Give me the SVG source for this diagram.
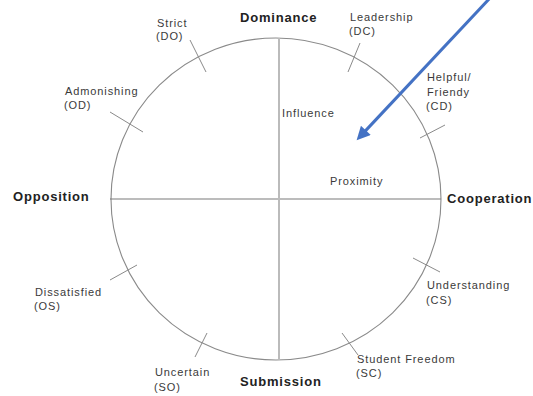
<svg xmlns="http://www.w3.org/2000/svg" width="533" height="396" viewBox="0 0 533 396">
  <style>
    .lbl { font-family: "Liberation Sans", Arial, sans-serif; font-size: 11px; fill: #3a3a3a; letter-spacing: 0.9px; }
    .axis { font-family: "Liberation Sans", Arial, sans-serif; font-size: 13px; font-weight: bold; fill: #222; letter-spacing: 0.8px; }
    .tick { stroke: #8a8a8a; stroke-width: 1; fill: none; }
  </style>
  <defs>
    <marker id="head" viewBox="0 0 10 10" refX="2" refY="5" markerWidth="5.5" markerHeight="4.5" orient="auto" markerUnits="strokeWidth">
      <path d="M0,0 L10,5 L0,10 z" fill="#4472C4"/>
    </marker>
  </defs>
  <rect width="533" height="396" fill="#ffffff"/>

  <g id="frame">
    <ellipse cx="276" cy="199" rx="165" ry="161" fill="none" stroke="#8a8a8a" stroke-width="1.1"/>
    <line x1="110" y1="199" x2="441" y2="199" stroke="#7a7a7a" stroke-width="1.2"/>
    <line x1="279" y1="38" x2="279" y2="360" stroke="#bbbbbb" stroke-width="2"/>
  </g>

  <g id="ticks">
    <line class="tick" x1="190" y1="40" x2="206" y2="72"/>
    <line class="tick" x1="360" y1="43" x2="348" y2="72"/>
    <line class="tick" x1="110" y1="112" x2="143" y2="132"/>
    <line class="tick" x1="420" y1="138" x2="445" y2="125"/>
    <line class="tick" x1="413" y1="258" x2="440" y2="272"/>
    <line class="tick" x1="342" y1="333" x2="358" y2="355"/>
    <line class="tick" x1="207" y1="333" x2="195" y2="357"/>
    <line class="tick" x1="110" y1="280" x2="137" y2="265"/>
  </g>

  <g id="dominance"><text class="axis" x="240" y="22">Dominance</text></g>
  <g id="submission"><text class="axis" x="240" y="386">Submission</text></g>
  <g id="opposition"><text class="axis" x="13" y="201">Opposition</text></g>
  <g id="cooperation"><text class="axis" x="447" y="203">Cooperation</text></g>

  <g id="strict"><text class="lbl" x="157" y="27">Strict</text><text class="lbl" x="156" y="40">(DO)</text></g>
  <g id="leadership"><text class="lbl" x="350" y="21">Leadership</text><text class="lbl" x="349" y="35">(DC)</text></g>
  <g id="admonishing"><text class="lbl" x="65" y="95">Admonishing</text><text class="lbl" x="64" y="109">(OD)</text></g>
  <g id="helpful"><text class="lbl" x="427" y="81">Helpful/</text><text class="lbl" x="427" y="96">Friendy</text><text class="lbl" x="426" y="110">(CD)</text></g>
  <g id="understanding"><text class="lbl" x="427" y="289">Understanding</text><text class="lbl" x="426" y="304">(CS)</text></g>
  <g id="student-freedom"><text class="lbl" x="357" y="363">Student Freedom</text><text class="lbl" x="356" y="377">(SC)</text></g>
  <g id="uncertain"><text class="lbl" x="155" y="376">Uncertain</text><text class="lbl" x="154" y="391">(SO)</text></g>
  <g id="dissatisfied"><text class="lbl" x="35" y="296">Dissatisfied</text><text class="lbl" x="34" y="310">(OS)</text></g>
  <g id="influence"><text class="lbl" x="282" y="117">Influence</text></g>
  <g id="proximity"><text class="lbl" x="330" y="185">Proximity</text></g>

  <g id="connectors">
    <line x1="490" y1="-2" x2="364" y2="132.4" stroke="#4472C4" stroke-width="3" marker-end="url(#head)"/>
  </g>
</svg>
